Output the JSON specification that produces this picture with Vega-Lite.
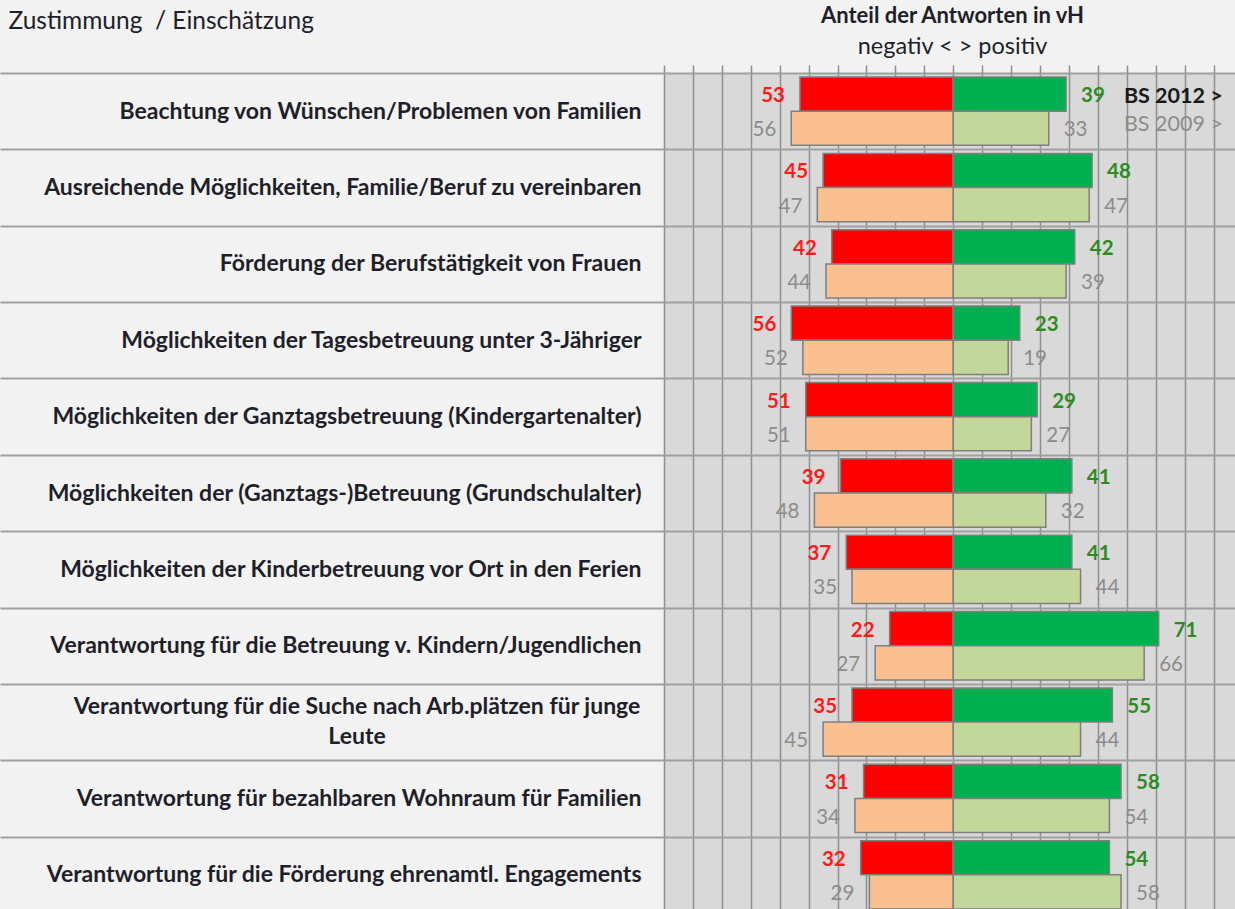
{
  "$schema": "https://vega.github.io/schema/vega-lite/v6.json",
  "width": 571,
  "height": 836,
  "autosize": {"type": "none"},
  "padding": {"left": 664, "top": 73, "right": 0, "bottom": 0},
  "background": "#f2f2f2",
  "config": {
    "view": {"fill": "#d9d9d9", "stroke": null},
    "font": "Lato",
    "axisX": {"tickCount": 20, "labels": false, "domain": false, "tickSize": 8, "tickColor": "#8f8f8f", "tickWidth": 1.5, "grid": true, "gridColor": "#8f8f8f", "gridWidth": 1.5}
  },
  "title": {
    "text": "Anteil der Antworten in vH",
    "subtitle": "negativ < > positiv",
    "anchor": "middle",
    "frame": "group",
    "dx": 3,
    "font": "Lato",
    "fontSize": 22,
    "fontWeight": "bold",
    "color": "#1f1f2a",
    "subtitleFont": "Lato",
    "subtitleFontSize": 23.5,
    "subtitleColor": "#1f1f2a",
    "subtitlePadding": 7,
    "offset": -51
  },
  "data": {
    "values": [
      {"item": "Beachtung von Wünschen/Problemen von Familien", "year": "2012", "side": "neg", "pct": 53},
      {"item": "Beachtung von Wünschen/Problemen von Familien", "year": "2012", "side": "pos", "pct": 39},
      {"item": "Beachtung von Wünschen/Problemen von Familien", "year": "2009", "side": "neg", "pct": 56},
      {"item": "Beachtung von Wünschen/Problemen von Familien", "year": "2009", "side": "pos", "pct": 33},
      {"item": "Ausreichende Möglichkeiten, Familie/Beruf zu vereinbaren", "year": "2012", "side": "neg", "pct": 45},
      {"item": "Ausreichende Möglichkeiten, Familie/Beruf zu vereinbaren", "year": "2012", "side": "pos", "pct": 48},
      {"item": "Ausreichende Möglichkeiten, Familie/Beruf zu vereinbaren", "year": "2009", "side": "neg", "pct": 47},
      {"item": "Ausreichende Möglichkeiten, Familie/Beruf zu vereinbaren", "year": "2009", "side": "pos", "pct": 47},
      {"item": "Förderung der Berufstätigkeit von Frauen", "year": "2012", "side": "neg", "pct": 42},
      {"item": "Förderung der Berufstätigkeit von Frauen", "year": "2012", "side": "pos", "pct": 42},
      {"item": "Förderung der Berufstätigkeit von Frauen", "year": "2009", "side": "neg", "pct": 44},
      {"item": "Förderung der Berufstätigkeit von Frauen", "year": "2009", "side": "pos", "pct": 39},
      {"item": "Möglichkeiten der Tagesbetreuung unter 3-Jähriger", "year": "2012", "side": "neg", "pct": 56},
      {"item": "Möglichkeiten der Tagesbetreuung unter 3-Jähriger", "year": "2012", "side": "pos", "pct": 23},
      {"item": "Möglichkeiten der Tagesbetreuung unter 3-Jähriger", "year": "2009", "side": "neg", "pct": 52},
      {"item": "Möglichkeiten der Tagesbetreuung unter 3-Jähriger", "year": "2009", "side": "pos", "pct": 19},
      {"item": "Möglichkeiten der Ganztagsbetreuung (Kindergartenalter)", "year": "2012", "side": "neg", "pct": 51},
      {"item": "Möglichkeiten der Ganztagsbetreuung (Kindergartenalter)", "year": "2012", "side": "pos", "pct": 29},
      {"item": "Möglichkeiten der Ganztagsbetreuung (Kindergartenalter)", "year": "2009", "side": "neg", "pct": 51},
      {"item": "Möglichkeiten der Ganztagsbetreuung (Kindergartenalter)", "year": "2009", "side": "pos", "pct": 27},
      {"item": "Möglichkeiten der (Ganztags-)Betreuung (Grundschulalter)", "year": "2012", "side": "neg", "pct": 39},
      {"item": "Möglichkeiten der (Ganztags-)Betreuung (Grundschulalter)", "year": "2012", "side": "pos", "pct": 41},
      {"item": "Möglichkeiten der (Ganztags-)Betreuung (Grundschulalter)", "year": "2009", "side": "neg", "pct": 48},
      {"item": "Möglichkeiten der (Ganztags-)Betreuung (Grundschulalter)", "year": "2009", "side": "pos", "pct": 32},
      {"item": "Möglichkeiten der Kinderbetreuung vor Ort in den Ferien", "year": "2012", "side": "neg", "pct": 37},
      {"item": "Möglichkeiten der Kinderbetreuung vor Ort in den Ferien", "year": "2012", "side": "pos", "pct": 41},
      {"item": "Möglichkeiten der Kinderbetreuung vor Ort in den Ferien", "year": "2009", "side": "neg", "pct": 35},
      {"item": "Möglichkeiten der Kinderbetreuung vor Ort in den Ferien", "year": "2009", "side": "pos", "pct": 44},
      {"item": "Verantwortung für die Betreuung v. Kindern/Jugendlichen", "year": "2012", "side": "neg", "pct": 22},
      {"item": "Verantwortung für die Betreuung v. Kindern/Jugendlichen", "year": "2012", "side": "pos", "pct": 71},
      {"item": "Verantwortung für die Betreuung v. Kindern/Jugendlichen", "year": "2009", "side": "neg", "pct": 27},
      {"item": "Verantwortung für die Betreuung v. Kindern/Jugendlichen", "year": "2009", "side": "pos", "pct": 66},
      {"item": "Verantwortung für die Suche nach Arb.plätzen für junge Leute", "year": "2012", "side": "neg", "pct": 35},
      {"item": "Verantwortung für die Suche nach Arb.plätzen für junge Leute", "year": "2012", "side": "pos", "pct": 55},
      {"item": "Verantwortung für die Suche nach Arb.plätzen für junge Leute", "year": "2009", "side": "neg", "pct": 45},
      {"item": "Verantwortung für die Suche nach Arb.plätzen für junge Leute", "year": "2009", "side": "pos", "pct": 44},
      {"item": "Verantwortung für bezahlbaren Wohnraum für Familien", "year": "2012", "side": "neg", "pct": 31},
      {"item": "Verantwortung für bezahlbaren Wohnraum für Familien", "year": "2012", "side": "pos", "pct": 58},
      {"item": "Verantwortung für bezahlbaren Wohnraum für Familien", "year": "2009", "side": "neg", "pct": 34},
      {"item": "Verantwortung für bezahlbaren Wohnraum für Familien", "year": "2009", "side": "pos", "pct": 54},
      {"item": "Verantwortung für die Förderung ehrenamtl. Engagements", "year": "2012", "side": "neg", "pct": 32},
      {"item": "Verantwortung für die Förderung ehrenamtl. Engagements", "year": "2012", "side": "pos", "pct": 54},
      {"item": "Verantwortung für die Förderung ehrenamtl. Engagements", "year": "2009", "side": "neg", "pct": 29},
      {"item": "Verantwortung für die Förderung ehrenamtl. Engagements", "year": "2009", "side": "pos", "pct": 58}
    ]
  },
  "transform": [
    {"calculate": "datum.side == 'neg' ? -datum.pct : datum.pct", "as": "x"},
    {"calculate": "datum.year + datum.side", "as": "key"}
  ],
  "encoding": {
    "y": {
      "field": "item",
      "type": "nominal",
      "sort": null,
      "scale": {"range": [0, 840], "paddingInner": 0, "paddingOuter": 0},
      "axis": {
        "orient": "left",
        "title": "Zustimmung\u00a0 / Einschätzung",
        "titleAngle": 0,
        "titleAlign": "left",
        "titleBaseline": "middle",
        "titleX": -656,
        "titleY": -52,
        "titleFont": "Lato",
        "titleFontSize": 24.5,
        "titleFontWeight": "normal",
        "titleColor": "#1f1f2a",
        "domain": false,
        "ticks": true,
        "tickBand": "extent",
        "tickSize": 664,
        "tickColor": "#a0a0a0",
        "tickWidth": 2,
        "grid": true,
        "gridColor": "#a0a0a0",
        "gridWidth": 2,
        "labelPadding": -641,
        "labelFont": "Lato",
        "labelFontSize": 23,
        "labelFontWeight": "bold",
        "labelColor": "#1f1f2a",
        "labelLimit": 0,
        "labelExpr": "datum.label == 'Verantwortung für die Suche nach Arb.plätzen für junge Leute' ? '' : datum.label"
      }
    },
    "yOffset": {
      "field": "year",
      "type": "nominal",
      "sort": ["2012", "2009"],
      "scale": {"paddingInner": 0, "paddingOuter": 0.118}
    }
  },
  "layer": [
    {
      "mark": {"type": "bar", "stroke": "#7f7f7f", "strokeWidth": 1.5},
      "encoding": {
        "x": {
          "field": "x",
          "type": "quantitative",
          "scale": {"domain": [-100, 97.4], "nice": false, "zero": false},
          "axis": {
            "orient": "top",
            "values": [-100, -90, -80, -70, -60, -50, -40, -30, -20, -10, 0, 10, 20, 30, 40, 50, 60, 70, 80, 90],
            "labels": false,
            "title": null
          }
        },
        "x2": {"datum": 0},
        "color": {
          "field": "key",
          "type": "nominal",
          "scale": {
            "domain": ["2012neg", "2012pos", "2009neg", "2009pos"],
            "range": ["#ff0000", "#00b050", "#fac090", "#c4d79b"]
          },
          "legend": null
        }
      }
    },
    {
      "transform": [{"filter": "datum.key == '2012neg'"}],
      "mark": {"type": "text", "align": "right", "baseline": "middle", "dx": -15, "dy": 2, "font": "Lato", "fontSize": 20.5, "fontWeight": "bold", "color": "#ff1a1a"},
      "encoding": {"x": {"field": "x", "type": "quantitative"}, "text": {"field": "pct", "type": "quantitative"}}
    },
    {
      "transform": [{"filter": "datum.key == '2012pos'"}],
      "mark": {"type": "text", "align": "left", "baseline": "middle", "dx": 15, "dy": 2, "font": "Lato", "fontSize": 20.5, "fontWeight": "bold", "color": "#2e8b22"},
      "encoding": {"x": {"field": "x", "type": "quantitative"}, "text": {"field": "pct", "type": "quantitative"}}
    },
    {
      "transform": [{"filter": "datum.key == '2009neg'"}],
      "mark": {"type": "text", "align": "right", "baseline": "middle", "dx": -15, "dy": 2, "font": "Lato", "fontSize": 20.5, "fontWeight": "normal", "color": "#8c8c8c"},
      "encoding": {"x": {"field": "x", "type": "quantitative"}, "text": {"field": "pct", "type": "quantitative"}}
    },
    {
      "transform": [{"filter": "datum.key == '2009pos'"}],
      "mark": {"type": "text", "align": "left", "baseline": "middle", "dx": 15, "dy": 2, "font": "Lato", "fontSize": 20.5, "fontWeight": "normal", "color": "#8c8c8c"},
      "encoding": {"x": {"field": "x", "type": "quantitative"}, "text": {"field": "pct", "type": "quantitative"}}
    },
    {
      "data": {"values": [
        {"item": "Verantwortung für die Suche nach Arb.plätzen für junge Leute", "year": "2012", "t": "Verantwortung für die Suche nach Arb.plätzen für junge"}
      ]},
      "mark": {"type": "text", "align": "center", "baseline": "middle", "dx": -307, "dy": 2, "font": "Lato", "fontSize": 23, "fontWeight": "bold", "color": "#1f1f2a"},
      "encoding": {"x": {"datum": -100, "type": "quantitative"}, "text": {"field": "t"}}
    },
    {
      "data": {"values": [
        {"item": "Verantwortung für die Suche nach Arb.plätzen für junge Leute", "year": "2009", "t": "Leute"}
      ]},
      "mark": {"type": "text", "align": "center", "baseline": "middle", "dx": -307, "dy": -2, "font": "Lato", "fontSize": 23, "fontWeight": "bold", "color": "#1f1f2a"},
      "encoding": {"x": {"datum": -100, "type": "quantitative"}, "text": {"field": "t"}}
    },
    {
      "data": {"values": [{"item": "Beachtung von Wünschen/Problemen von Familien", "year": "2012", "t": "BS 2012 >"}]},
      "mark": {"type": "text", "align": "left", "baseline": "middle", "dy": 3, "font": "Lato", "fontSize": 21.5, "fontWeight": "bold", "color": "#1a1a1a"},
      "encoding": {"x": {"datum": 59, "type": "quantitative"}, "text": {"field": "t"}}
    },
    {
      "data": {"values": [{"item": "Beachtung von Wünschen/Problemen von Familien", "year": "2009", "t": "BS 2009 >"}]},
      "mark": {"type": "text", "align": "left", "baseline": "middle", "dy": -3, "font": "Lato", "fontSize": 21.5, "fontWeight": "normal", "color": "#8c8c8c"},
      "encoding": {"x": {"datum": 59, "type": "quantitative"}, "text": {"field": "t"}}
    }
  ]
}
